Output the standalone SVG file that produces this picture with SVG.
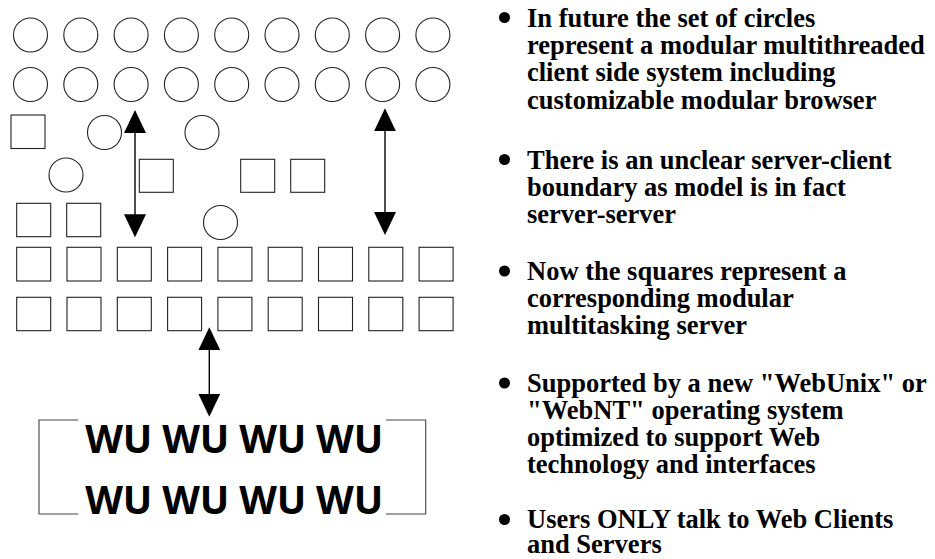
<svg xmlns="http://www.w3.org/2000/svg" width="935" height="559" viewBox="0 0 935 559">
<style>
.c{fill:#fff;stroke:#222;stroke-width:1.1}
.s{fill:#fff;stroke:#222;stroke-width:1.1}
.ln{stroke:#000;stroke-width:1.4;fill:none}
.br{stroke:#444;stroke-width:1.1;fill:none}
.wu{font-family:"Open Sans","Liberation Sans",sans-serif;font-weight:bold;font-size:39px;fill:#000}
.tx{font-family:"Liberation Serif","Times New Roman",serif;font-weight:bold;font-size:26.5px;fill:#000}
.bu{fill:#000}
</style>
<defs>
<marker id="ah" markerUnits="userSpaceOnUse" viewBox="0 0 23 22" markerWidth="23" markerHeight="22" refX="18" refY="11" orient="auto-start-reverse">
<path d="M0,0 L23,11 L0,22 Z" fill="#000"/>
</marker>
</defs>
<g id="circles-row1">
<circle class="c" cx="30.5" cy="35" r="17"/><circle class="c" cx="80.8" cy="35" r="17"/><circle class="c" cx="131.1" cy="35" r="17"/><circle class="c" cx="181.4" cy="35" r="17"/><circle class="c" cx="231.7" cy="35" r="17"/><circle class="c" cx="282" cy="35" r="17"/><circle class="c" cx="332.3" cy="35" r="17"/><circle class="c" cx="382.6" cy="35" r="17"/><circle class="c" cx="432.9" cy="35" r="17"/>
</g>
<g id="circles-row2">
<circle class="c" cx="30.5" cy="84.5" r="17"/><circle class="c" cx="80.8" cy="84.5" r="17"/><circle class="c" cx="131.1" cy="84.5" r="17"/><circle class="c" cx="181.4" cy="84.5" r="17"/><circle class="c" cx="231.7" cy="84.5" r="17"/><circle class="c" cx="282" cy="84.5" r="17"/><circle class="c" cx="332.3" cy="84.5" r="17"/><circle class="c" cx="382.6" cy="84.5" r="17"/><circle class="c" cx="432.9" cy="84.5" r="17"/>
</g>
<g id="scattered">
<rect class="s" x="11" y="115" width="34" height="33.5"/>
<circle class="c" cx="104.5" cy="132.5" r="17"/>
<circle class="c" cx="202" cy="132.5" r="17"/>
<circle class="c" cx="66" cy="175" r="17"/>
<rect class="s" x="139.3" y="159.3" width="34" height="33"/>
<rect class="s" x="240.7" y="159.3" width="34" height="33"/>
<rect class="s" x="290.7" y="159.3" width="34" height="33"/>
<rect class="s" x="16.7" y="203.3" width="34" height="33.4"/>
<rect class="s" x="66.7" y="203.3" width="34" height="33.4"/>
<circle class="c" cx="220.5" cy="222.5" r="17"/>
</g>
<g id="squares-row1">
<rect class="s" x="16.7" y="247.3" width="34" height="33.7"/><rect class="s" x="67" y="247.3" width="34" height="33.7"/><rect class="s" x="117.3" y="247.3" width="34" height="33.7"/><rect class="s" x="167.6" y="247.3" width="34" height="33.7"/><rect class="s" x="217.9" y="247.3" width="34" height="33.7"/><rect class="s" x="268.2" y="247.3" width="34" height="33.7"/><rect class="s" x="318.5" y="247.3" width="34" height="33.7"/><rect class="s" x="368.8" y="247.3" width="34" height="33.7"/><rect class="s" x="419.1" y="247.3" width="34" height="33.7"/>
</g>
<g id="squares-row2">
<rect class="s" x="16.7" y="297.3" width="34" height="33.4"/><rect class="s" x="67" y="297.3" width="34" height="33.4"/><rect class="s" x="117.3" y="297.3" width="34" height="33.4"/><rect class="s" x="167.6" y="297.3" width="34" height="33.4"/><rect class="s" x="217.9" y="297.3" width="34" height="33.4"/><rect class="s" x="268.2" y="297.3" width="34" height="33.4"/><rect class="s" x="318.5" y="297.3" width="34" height="33.4"/><rect class="s" x="368.8" y="297.3" width="34" height="33.4"/><rect class="s" x="419.1" y="297.3" width="34" height="33.4"/>
</g>
<g id="connectors">
<line class="ln" x1="135" y1="115" x2="135" y2="232.3" marker-start="url(#ah)" marker-end="url(#ah)"/>
<line class="ln" x1="385" y1="113.3" x2="385" y2="230" marker-start="url(#ah)" marker-end="url(#ah)"/>
<line class="ln" x1="209.3" y1="332.3" x2="209.3" y2="411.7" marker-start="url(#ah)" marker-end="url(#ah)"/>
</g>
<g id="wu-box">
<path class="br" d="M78.3,420 H39 V514 H78.3"/>
<path class="br" d="M386,420 H425.7 V514 H386"/>
<text class="wu" x="234.2" y="453" text-anchor="middle" textLength="298" lengthAdjust="spacing">WU WU WU WU</text>
<text class="wu" x="234.2" y="513.5" text-anchor="middle" textLength="298" lengthAdjust="spacing">WU WU WU WU</text>
</g>
<g id="bullets">
<circle class="bu" cx="504.5" cy="17.5" r="5.5"/>
<circle class="bu" cx="504.5" cy="159.5" r="5.5"/>
<circle class="bu" cx="504.5" cy="271" r="5.5"/>
<circle class="bu" cx="504.5" cy="383" r="5.5"/>
<circle class="bu" cx="504.5" cy="519.5" r="5.5"/>
<text class="tx" x="527" y="27"><tspan x="527">In future the set of circles</tspan><tspan x="527" dy="27.2">represent a modular multithreaded</tspan><tspan x="527" dy="27.2">client side system including</tspan><tspan x="527" dy="27.2">customizable modular browser</tspan></text>
<text class="tx" x="527" y="168.5"><tspan x="527">There is an unclear server-client</tspan><tspan x="527" dy="27.2">boundary as model is in fact</tspan><tspan x="527" dy="27.2">server-server</tspan></text>
<text class="tx" x="527" y="279.5"><tspan x="527">Now the squares represent a</tspan><tspan x="527" dy="27.2">corresponding modular</tspan><tspan x="527" dy="27.2">multitasking server</tspan></text>
<text class="tx" x="527" y="391.7"><tspan x="527">Supported by a new "WebUnix" or</tspan><tspan x="527" dy="27.2">"WebNT" operating system</tspan><tspan x="527" dy="27.2">optimized to support Web</tspan><tspan x="527" dy="27.2">technology and interfaces</tspan></text>
<text class="tx" x="527" y="528"><tspan x="527">Users ONLY talk to Web Clients</tspan><tspan x="527" dy="25">and Servers</tspan></text>
</g>
</svg>
